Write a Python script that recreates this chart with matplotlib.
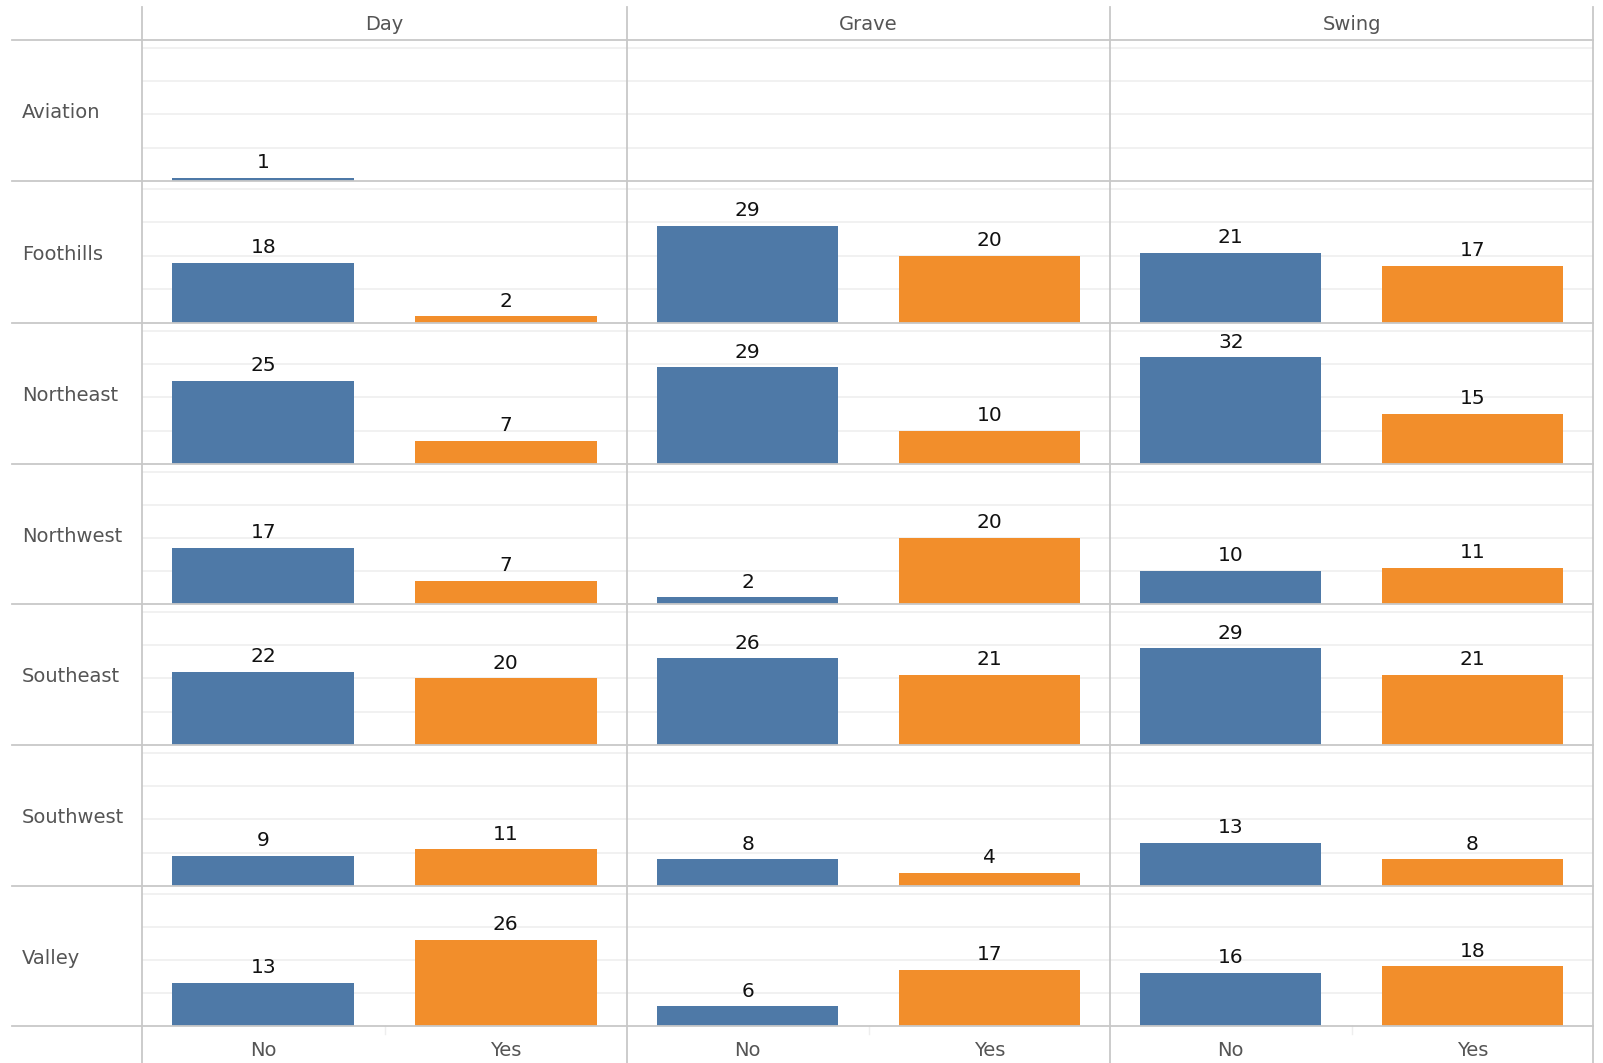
import numpy as np
import matplotlib
matplotlib.use("Agg")
import matplotlib.pyplot as plt
from matplotlib.lines import Line2D

# data
regions = ['Aviation', 'Foothills', 'Northeast', 'Northwest', 'Southeast', 'Southwest', 'Valley']
shifts = ['Day', 'Grave', 'Swing']
answers = ['No', 'Yes']

# rows = regions, columns = shifts (nan = no bar)
no_counts = [
    [1, np.nan, np.nan],
    [18, 29, 21],
    [25, 29, 32],
    [17, 2, 10],
    [22, 26, 29],
    [9, 8, 13],
    [13, 6, 16],
]
yes_counts = [
    [np.nan, np.nan, np.nan],
    [2, 20, 17],
    [7, 10, 15],
    [7, 20, 11],
    [20, 21, 21],
    [11, 4, 8],
    [26, 17, 18],
]

BLUE = '#4e79a7'
ORANGE = '#f28e2b'
SEP = '#c8c8c8'
GRID = '#efefef'
LABEL = '#555555'

W, H = 1603, 1063
fig = plt.figure(figsize=(W / 100, H / 100), dpi=100)

# layout in pixels
x_left = 12
x_cols = [142, 627, 1110, 1593]
y_top = 7
y_rows = [40, 181, 323, 464, 604, 745, 886, 1026]


def fx(px):
    return px / W


def fy(py):
    return 1 - py / H


for r, region in enumerate(regions):
    for c, shift in enumerate(shifts):
        x0, x1 = x_cols[c], x_cols[c + 1]
        y0, y1 = y_rows[r], y_rows[r + 1]
        ax = fig.add_axes([fx(x0), fy(y1), fx(x1 - x0), (y1 - y0) / H])
        ax.set_xlim(-0.5, 1.5)
        ax.set_ylim(0, 42.3)
        for g in [10, 20, 30, 40]:
            ax.axhline(g, color=GRID, lw=1.2, zorder=0)
        vals = [no_counts[r][c], yes_counts[r][c]]
        for i, v in enumerate(vals):
            if np.isnan(v):
                continue
            ax.bar(i, v, width=0.75, color=[BLUE, ORANGE][i], zorder=2)
            ax.annotate(str(int(v)), (i, v), xytext=(0, 4), textcoords='offset points',
                        ha='center', va='bottom', fontsize=14.5, color='#111111')
        ax.set_axis_off()

# separators and headers
lines = []
for y in y_rows:
    lines.append(([fx(x_left), fx(x_cols[-1])], [fy(y), fy(y)]))
for x in x_cols:
    lines.append(([fx(x), fx(x)], [fy(y_top), fy(H)]))
for xs, ys in lines:
    fig.add_artist(Line2D(xs, ys, color=SEP, lw=1.3, zorder=5))

# faint dividers between No / Yes on the bottom axis
for c in range(3):
    xm = (x_cols[c] + x_cols[c + 1]) / 2
    fig.add_artist(Line2D([fx(xm), fx(xm)], [fy(y_rows[-1]), fy(y_rows[-1] + 8)],
                          color='#eeeeee', lw=1))

for c, shift in enumerate(shifts):
    xm = (x_cols[c] + x_cols[c + 1]) / 2
    fig.text(fx(xm), fy(25), shift, ha='center', va='center', fontsize=14, color=LABEL)
    w = (x_cols[c + 1] - x_cols[c]) / 4
    for i, a in enumerate(answers):
        fig.text(fx(x_cols[c] + w * (1 + 2 * i)), fy(1050), a, ha='center', va='center',
                 fontsize=14, color=LABEL)

for r, region in enumerate(regions):
    ym = (y_rows[r] + y_rows[r + 1]) / 2
    fig.text(fx(22), fy(ym + 2), region, ha='left', va='center', fontsize=14, color=LABEL)

fig.savefig('out.png', dpi=100)
